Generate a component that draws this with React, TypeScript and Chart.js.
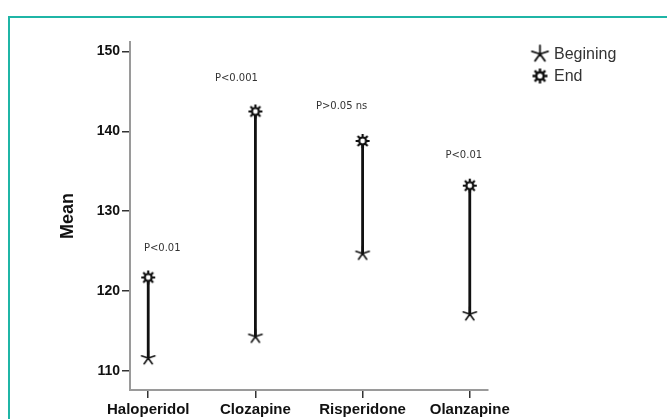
import React, { useEffect, useRef } from "react";
import { Chart, registerables } from "chart.js";

Chart.register(...registerables);

const categories = ["Haloperidol", "Clozapine", "Risperidone", "Olanzapine"];
const beginValues = [111.6, 114.3, 124.7, 117.1];
const endValues = [121.7, 142.5, 138.8, 133.2];
const pLabels = ["P<0.01", "P<0.001", "P>0.05 ns", "P<0.01"];
const yTicks = [110, 120, 130, 140, 150];
const seriesNames = ["Begining", "End"];

// label placement (pixels, relative to the End marker)
const pLabelDx = [14, -19, -21, -6];
const pLabelDy = [-29, -33, -35, -30];

function makeBeginMarker(r: number, lw: number) {
  const size = Math.ceil(r * 2 + 4);
  const c = document.createElement("canvas");
  c.width = size;
  c.height = size;
  const ctx = c.getContext("2d")!;
  const m = size / 2;
  ctx.strokeStyle = "#111";
  ctx.lineWidth = lw;
  ctx.lineCap = "round";
  ctx.beginPath();
  for (let k = 0; k < 5; k++) {
    const a = (-90 + k * 72) * (Math.PI / 180);
    ctx.moveTo(m, m);
    ctx.lineTo(m + r * Math.cos(a), m + r * Math.sin(a));
  }
  ctx.stroke();
  return c;
}

function makeEndMarker(r: number, lw: number) {
  const size = Math.ceil(r * 2 + 4);
  const c = document.createElement("canvas");
  c.width = size;
  c.height = size;
  const ctx = c.getContext("2d")!;
  const m = size / 2;
  const inner = r * 0.5;
  ctx.strokeStyle = "#111";
  ctx.lineWidth = lw;
  ctx.lineCap = "butt";
  ctx.beginPath();
  for (let k = 0; k < 8; k++) {
    const a = (k * 45) * (Math.PI / 180);
    ctx.moveTo(m + inner * Math.cos(a), m + inner * Math.sin(a));
    ctx.lineTo(m + r * Math.cos(a), m + r * Math.sin(a));
  }
  ctx.stroke();
  ctx.beginPath();
  ctx.arc(m, m, inner, 0, Math.PI * 2);
  ctx.fillStyle = "#fff";
  ctx.fill();
  ctx.lineWidth = lw;
  ctx.stroke();
  return c;
}

export default function App() {
  const ref = useRef<HTMLCanvasElement | null>(null);

  useEffect(() => {
    if (!ref.current) return;
    const beginMarker = makeBeginMarker(7, 1.6);
    const endMarker = makeEndMarker(7, 2.2);
    const beginLegend = makeBeginMarker(8.5, 1.8);
    const endLegend = makeEndMarker(7.5, 2.4);

    const lineData: { x: number; y: number | null }[] = [];
    categories.forEach((_, i) => {
      lineData.push({ x: i, y: beginValues[i] });
      lineData.push({ x: i, y: endValues[i] });
      lineData.push({ x: i, y: null });
    });

    const overlay = {
      id: "overlay",
      afterDatasetsDraw(chart: any) {
        const ctx = chart.ctx;
        const xs = chart.scales.x;
        const ys = chart.scales.y;
        ctx.save();
        ctx.font = '10px "DejaVu Sans", Verdana, sans-serif';
        ctx.fillStyle = "#333";
        ctx.textAlign = "center";
        ctx.textBaseline = "middle";
        pLabels.forEach((t, i) => {
          const px = xs.getPixelForValue(i) + pLabelDx[i];
          const py = ys.getPixelForValue(endValues[i]) + pLabelDy[i];
          ctx.fillText(t, px, py);
        });
        // legend
        const legendX = 540;
        const legendY = [54, 76];
        const markers = [beginLegend, endLegend];
        ctx.font = '16px "Liberation Sans", Arial, sans-serif';
        ctx.fillStyle = "#333";
        ctx.textAlign = "left";
        seriesNames.forEach((n, i) => {
          const m = markers[i];
          ctx.drawImage(m, legendX - m.width / 2, legendY[i] - m.height / 2);
          ctx.fillText(n, legendX + 14, legendY[i] + 1);
        });
        ctx.restore();
      },
    };

    const chart = new Chart(ref.current, {
      type: "scatter",
      data: {
        datasets: [
          {
            label: "range",
            data: lineData as any,
            showLine: true,
            spanGaps: false,
            borderColor: "#111",
            borderWidth: 2.8,
            pointRadius: 0,
            order: 3,
          } as any,
          {
            label: seriesNames[0],
            data: categories.map((_, i) => ({ x: i, y: beginValues[i] })),
            pointStyle: beginMarker as any,
            pointRadius: 5,
            order: 1,
          },
          {
            label: seriesNames[1],
            data: categories.map((_, i) => ({ x: i, y: endValues[i] })),
            pointStyle: endMarker as any,
            pointRadius: 5,
            order: 1,
          },
        ],
      },
      options: {
        animation: false,
        responsive: false,
        layout: { padding: { top: 42, right: 179, bottom: 0, left: 0 } },
        plugins: {
          legend: { display: false },
          tooltip: { enabled: false },
        },
        scales: {
          x: {
            type: "linear",
            min: -0.17,
            max: 3.17,
            afterBuildTicks: (s: any) => {
              s.ticks = categories.map((_, i) => ({ value: i }));
            },
            afterFit: (s: any) => {
              s.height = 29;
            },
            ticks: {
              callback: (v: any) => categories[Math.round(Number(v))] ?? "",
              font: { family: '"Liberation Sans", Arial, sans-serif', size: 15, weight: "bold" },
              color: "#111",
              padding: 3,
              maxRotation: 0,
              autoSkip: false,
            },
            grid: {
              drawOnChartArea: false,
              drawTicks: true,
              tickLength: 8,
              color: "#333",
              lineWidth: 1.5,
            },
            border: { display: true, color: "#9a9a9a", width: 2 },
          },
          y: {
            type: "linear",
            min: 107.6,
            max: 151.2,
            afterBuildTicks: (s: any) => {
              s.ticks = yTicks.map((v) => ({ value: v }));
            },
            afterFit: (s: any) => {
              s.width = 130;
            },
            ticks: {
              font: { family: '"Liberation Sans", Arial, sans-serif', size: 14, weight: "bold" },
              color: "#111",
              padding: 2,
            },
            grid: {
              drawOnChartArea: false,
              drawTicks: true,
              tickLength: 8,
              color: "#333",
              lineWidth: 1.5,
            },
            border: { display: true, color: "#9a9a9a", width: 2 },
            title: {
              display: true,
              text: "Mean",
              font: { family: '"Liberation Sans", Arial, sans-serif', size: 18, weight: "bold" },
              color: "#111",
              padding: { top: 57, bottom: 0 },
            },
          },
        },
      },
      plugins: [overlay],
    });
    return () => chart.destroy();
  }, []);

  return (
    <div style={{ position: "fixed", left: 0, top: 0, width: 667, height: 419, background: "#fff", overflow: "hidden" }}>
      <div
        style={{
          position: "absolute",
          left: 8,
          top: 16,
          width: 800,
          height: 600,
          borderLeft: "2px solid #1fb5a6",
          borderTop: "2px solid #1fb5a6",
        }}
      />
      <canvas ref={ref} width={667} height={419} style={{ position: "absolute", left: 0, top: 0 }} />
    </div>
  );
}
